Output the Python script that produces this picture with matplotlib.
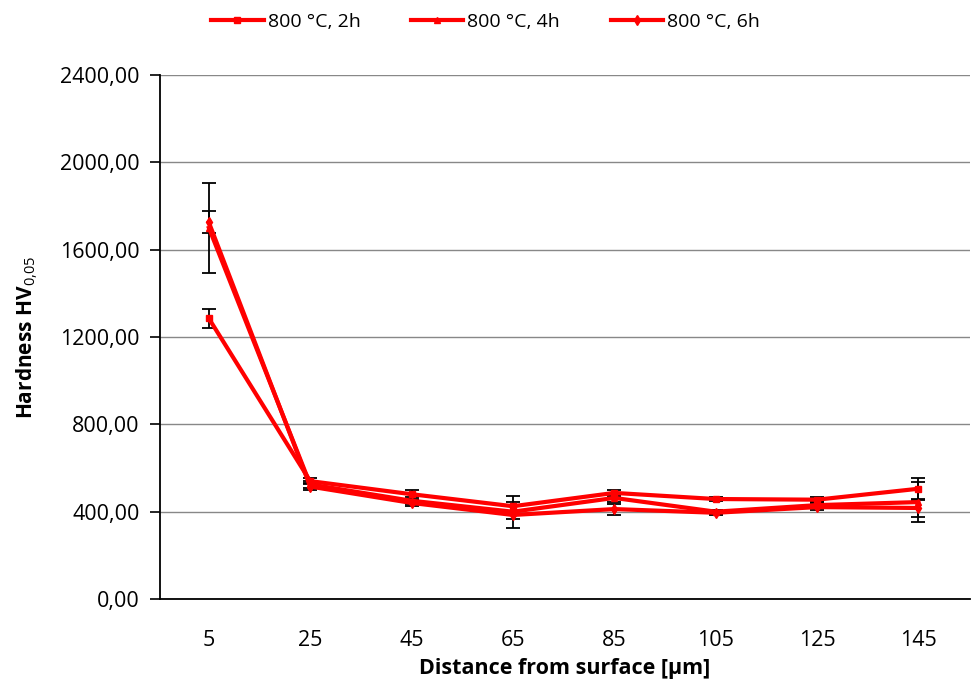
import matplotlib
matplotlib.use("Agg")
from matplotlib import pyplot as plt
from matplotlib.ticker import FuncFormatter

plt.rcParams["font.family"] = ["Open Sans", "DejaVu Sans"]
plt.rcParams["mathtext.fontset"] = "custom"
plt.rcParams["mathtext.rm"] = "Open Sans"
plt.rcParams["mathtext.bf"] = "Open Sans:bold"

# Dados
distances = ["5", "25", "45", "65", "85", "105", "125", "145"]
labels = ["800 °C, 2h", "800 °C, 4h", "800 °C, 6h"]
hv_2h = [1285, 540, 480, 425, 486, 458, 455, 505]
hv_4h = [1700, 525, 450, 400, 463, 400, 430, 444]
hv_6h = [1725, 515, 440, 385, 412, 395, 421, 417]
err_2h = [45, 15, 20, 20, 15, 10, 10, 50]
err_4h = [205, 15, 15, 73, 20, 10, 15, 90]
err_6h = [50, 15, 15, 20, 25, 10, 15, 40]
markers = ["s", "^", "d"]

series = [hv_2h, hv_4h, hv_6h]
errors = [err_2h, err_4h, err_6h]

# Saída
fig = plt.figure(figsize=(9.71, 6.93), dpi=100)
ax = fig.add_axes([0.165, 0.1356, 0.834, 0.7562])
xs = list(range(len(distances)))
for vals, errs, mk, lab in zip(series, errors, markers, labels):
    ax.errorbar(xs, vals, yerr=errs, fmt="none", ecolor="black",
                elinewidth=1.3, capsize=5, capthick=1.3, zorder=2)
    ax.plot(xs, vals, color="#ff0000", linewidth=3, marker=mk,
            markersize=5, label=lab, zorder=3)

ax.set_xlim(-0.48, 7.51)
ax.set_ylim(0, 2400)
ax.set_yticks(range(0, 2401, 400))
ax.yaxis.set_major_formatter(FuncFormatter(lambda v, p: f"{v:.2f}".replace(".", ",")))
ax.set_xticks(xs)
ax.set_xticklabels(distances)
ax.tick_params(axis="x", length=0, pad=22, labelsize=15.5)
ax.tick_params(axis="y", direction="out", length=7, width=1.2, pad=8, labelsize=15.5)
ax.grid(axis="y", color="#888888", linewidth=1)
ax.set_axisbelow(True)
for s in ["top", "right"]:
    ax.spines[s].set_visible(False)
for s in ["left", "bottom"]:
    ax.spines[s].set_linewidth(1.3)
ax.set_xlabel("Distance from surface [µm]", fontsize=15.5, fontweight="bold", labelpad=5)
ax.set_ylabel("Hardness HV$_{\\mathrm{0{,}05}}$", fontsize=15, fontweight="bold", labelpad=14)
fig.legend(loc="center", bbox_to_anchor=(0.5, 0.968), ncol=3, frameon=False,
           fontsize=14, handlelength=2.7, columnspacing=2.6, handletextpad=0.2)
fig.savefig("out.png", dpi=100)
